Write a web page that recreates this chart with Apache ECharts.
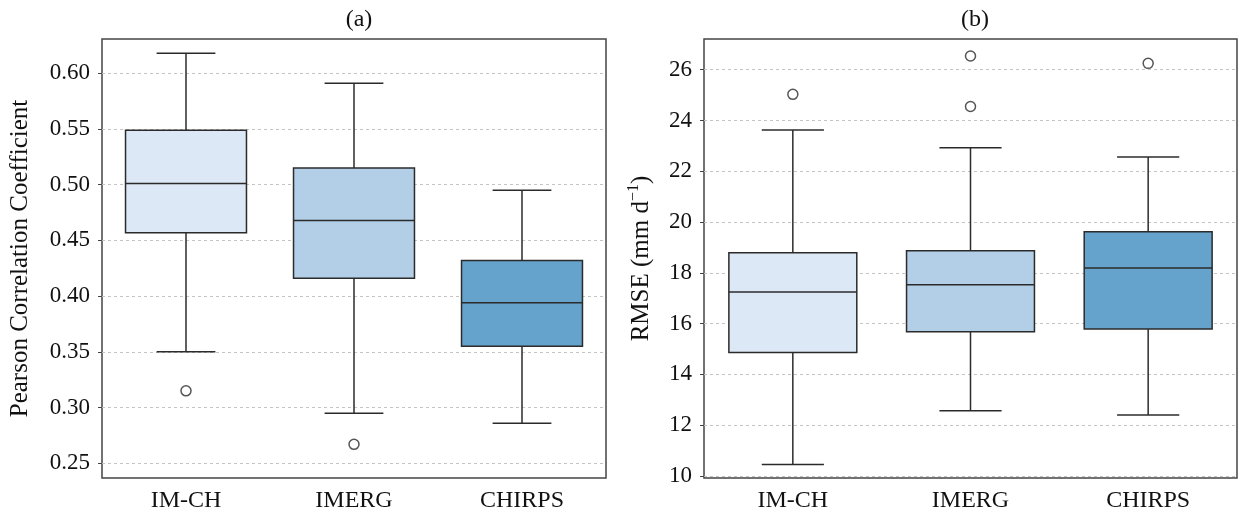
<!DOCTYPE html>
<html>
<head>
<meta charset="utf-8">
<script src="https://cdn.jsdelivr.net/npm/echarts@6/dist/echarts.min.js"></script>
<style>
html,body{margin:0;padding:0;background:#fff;}
#chart{width:1241px;height:514px;}
</style>
</head>
<body>
<div id="chart"></div>
<script>
// ---- data ----
const categories = ['IM-CH', 'IMERG', 'CHIRPS'];
const boxColors = ['#dce8f5', '#b3cfe8', '#66a3cc'];
// [lower whisker, Q1, median, Q3, upper whisker]
const pccStats = [
  [0.350, 0.457, 0.501, 0.549, 0.618],
  [0.295, 0.416, 0.468, 0.515, 0.591],
  [0.286, 0.355, 0.394, 0.432, 0.495]
];
const pccOutliers = [[0, 0.315], [1, 0.267]];
const rmseStats = [
  [10.45, 14.86, 17.25, 18.79, 23.63],
  [12.57, 15.68, 17.53, 18.87, 22.93],
  [12.40, 15.79, 18.19, 19.62, 22.56]
];
const rmseOutliers = [[0, 25.03], [1, 26.54], [1, 24.55], [2, 26.25]];
const pccTicks = [0.25, 0.30, 0.35, 0.40, 0.45, 0.50, 0.55, 0.60];
const rmseTicks = [10, 12, 14, 16, 18, 20, 22, 24, 26];
const titles = ['(a)', '(b)'];
const yNames = ['{a|Pearson Correlation Coefficient}', '{a|RMSE (mm d}{sup|\u22121}{a|)}'];

const FONT = '"Liberation Serif", "DejaVu Serif", serif';
const LINE = '#2b2b2b';

function renderBox(params, api) {
  const x = api.value(0);
  const lo = api.coord([x, api.value(1)]);
  const q1 = api.coord([x, api.value(2)]);
  const md = api.coord([x, api.value(3)]);
  const q3 = api.coord([x, api.value(4)]);
  const hi = api.coord([x, api.value(5)]);
  const band = api.size([1, 0])[0];
  const bw = band * 0.72;
  const cw = band * 0.35;
  const cx = lo[0];
  const ls = {stroke: LINE, lineWidth: 1.5};
  return {
    type: 'group',
    children: [
      {type: 'line', shape: {x1: cx, y1: hi[1], x2: cx, y2: q3[1]}, style: ls},
      {type: 'line', shape: {x1: cx, y1: q1[1], x2: cx, y2: lo[1]}, style: ls},
      {type: 'line', shape: {x1: cx - cw / 2, y1: hi[1], x2: cx + cw / 2, y2: hi[1]}, style: ls},
      {type: 'line', shape: {x1: cx - cw / 2, y1: lo[1], x2: cx + cw / 2, y2: lo[1]}, style: ls},
      {type: 'rect', shape: {x: cx - bw / 2, y: q3[1], width: bw, height: q1[1] - q3[1]},
        style: {fill: boxColors[api.value(0)], stroke: LINE, lineWidth: 1.5}},
      {type: 'line', shape: {x1: cx - bw / 2, y1: md[1], x2: cx + bw / 2, y2: md[1]}, style: ls}
    ]
  };
}

function boxData(stats) {
  return stats.map((s, i) => [i].concat(s));
}

const grids = [
  {left: 102, right: 635, top: 39, bottom: 36},
  {left: 704, right: 4, top: 39, bottom: 36}
];
const yRanges = [[0.2368, 0.6308], [9.92, 27.21]];
const ticksList = [pccTicks, rmseTicks];
const nameGaps = [67, 48];

const option = {
  backgroundColor: '#fff',
  animation: false,
  title: grids.map((g, i) => ({
    text: titles[i],
    left: i === 0 ? 354 : 970,
    top: 3,
    textAlign: 'center',
    textStyle: {fontFamily: FONT, fontSize: 24, fontWeight: 'normal', color: '#111'}
  })),
  grid: grids.map(g => Object.assign({show: true, borderColor: '#444', borderWidth: 1.5, backgroundColor: 'transparent'}, g)),
  xAxis: grids.map((g, i) => ({
    type: 'category',
    gridIndex: i,
    data: categories,
    axisLine: {show: false},
    axisTick: {show: false},
    splitLine: {show: false},
    axisLabel: {fontFamily: FONT, fontSize: 24, color: '#111', margin: 11}
  })),
  yAxis: grids.map((g, i) => ({
    type: 'value',
    gridIndex: i,
    min: yRanges[i][0],
    max: yRanges[i][1],
    name: yNames[i],
    nameLocation: 'middle',
    nameGap: nameGaps[i],
    nameTextStyle: {
      fontFamily: FONT, fontSize: 25, color: '#111',
      rich: {
        a: {fontFamily: FONT, fontSize: 25, color: '#111', lineHeight: 30},
        sup: {fontFamily: FONT, fontSize: 16, color: '#111', verticalAlign: 'top', lineHeight: 30}
      }
    },
    axisLine: {show: false},
    axisTick: {show: true, length: 4, lineStyle: {color: '#444'}, customValues: ticksList[i]},
    axisLabel: {
      fontFamily: FONT, fontSize: 23, color: '#111', margin: 12,
      customValues: ticksList[i],
      formatter: v => i === 0 ? v.toFixed(2) : String(Math.round(v))
    },
    splitLine: {show: true, lineStyle: {color: '#c4c4c4', type: [3, 3], width: 1}}
  })),
  series: [
    {type: 'custom', xAxisIndex: 0, yAxisIndex: 0, data: boxData(pccStats), renderItem: renderBox, z: 3},
    {type: 'scatter', xAxisIndex: 0, yAxisIndex: 0, data: pccOutliers, symbol: 'circle', symbolSize: 10,
      itemStyle: {color: '#fff', borderColor: LINE, borderWidth: 1.5}, z: 4},
    {type: 'custom', xAxisIndex: 1, yAxisIndex: 1, data: boxData(rmseStats), renderItem: renderBox, z: 3},
    {type: 'scatter', xAxisIndex: 1, yAxisIndex: 1, data: rmseOutliers, symbol: 'circle', symbolSize: 10,
      itemStyle: {color: '#fff', borderColor: LINE, borderWidth: 1.5}, z: 4}
  ]
};

const chart = echarts.init(document.getElementById('chart'), null, {renderer: 'canvas'});
chart.setOption(option);
</script>
</body>
</html>
